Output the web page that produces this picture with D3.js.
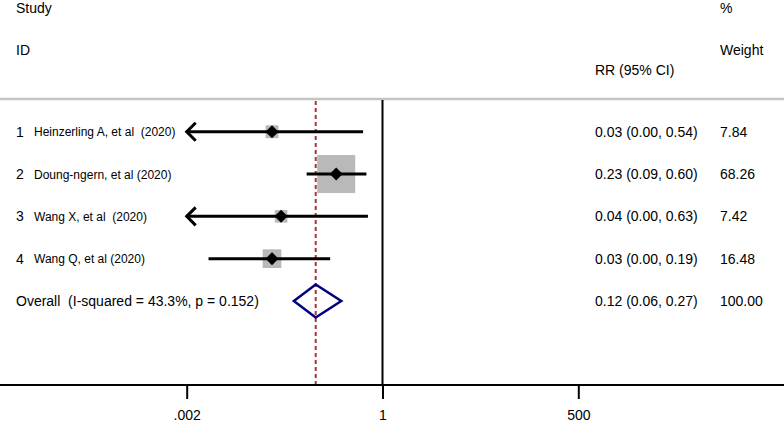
<!DOCTYPE html>
<html><head><meta charset="utf-8">
<script src="https://cdn.jsdelivr.net/npm/d3@7"></script>
<style>body{margin:0;background:#fff}svg{display:block;font-family:"Liberation Sans",Arial,sans-serif}text{white-space:pre}</style>
</head><body><svg id="c" width="784" height="425"></svg>
<script>
const studies = ["Heinzerling A, et al  (2020)", "Doung-ngern, et al (2020)", "Wang X, et al  (2020)", "Wang Q, et al (2020)"];
const rr = [0.03, 0.23, 0.04, 0.03];
const lower = [0.001, 0.09, 0.001, 0.004];
const upper = [0.54, 0.60, 0.63, 0.19];
const ciText = ["0.03 (0.00, 0.54)", "0.23 (0.09, 0.60)", "0.04 (0.00, 0.63)", "0.03 (0.00, 0.19)"];
const weights = [7.84, 68.26, 7.42, 16.48];
const overall = {label: "Overall  (I-squared = 43.3%, p = 0.152)", rr: 0.12, lower: 0.06, upper: 0.27, text: "0.12 (0.06, 0.27)", weight: "100.00"};
const tickValues = [0.002, 1, 500];
const tickLabels = [".002", "1", "500"];

const svg = d3.select("#c");
const x = d3.scaleLog().domain([0.002, 500]).range([186.7, 578.3]);
const y = d3.scaleLinear().domain([0, 4]).range([131.7, 301]);
const size = d3.scaleSqrt().domain([0, 100]).range([0, 46]);
const topY = 99, axisY = 385;
const FS = 14;

// header separator
svg.append("line").attr("x1", 0).attr("x2", 784).attr("y1", topY).attr("y2", topY)
  .attr("stroke", "#c4c4c4").attr("stroke-width", 2.5);

// header text
const hdr = svg.append("g").attr("font-size", FS).attr("fill", "#000");
hdr.append("text").attr("x", 16).attr("y", 13).text("Study");
hdr.append("text").attr("x", 16).attr("y", 55).text("ID");
hdr.append("text").attr("x", 595).attr("y", 75).text("RR (95% CI)");
hdr.append("text").attr("x", 720).attr("y", 13).text("%");
hdr.append("text").attr("x", 720).attr("y", 55).text("Weight");

// null line
svg.append("line").attr("x1", x(1)).attr("x2", x(1)).attr("y1", topY + 1).attr("y2", axisY)
  .attr("stroke", "#000").attr("stroke-width", 2);
// overall dashed line
svg.append("line").attr("x1", x(overall.rr)).attr("x2", x(overall.rr)).attr("y1", topY + 2).attr("y2", axisY)
  .attr("stroke", "#aa3340").attr("stroke-width", 2).attr("stroke-dasharray", "4,3");

// axis
const axis = d3.axisBottom(x).tickValues(tickValues).tickFormat((d, i) => tickLabels[i]).tickSize(14).tickPadding(9);
const ag = svg.append("g").attr("transform", `translate(0,${axisY})`).call(axis);
ag.select(".domain").remove();
ag.selectAll(".tick line").attr("stroke", "#000").attr("stroke-width", 2);
ag.selectAll(".tick text").attr("font-size", FS).attr("font-family", '"Liberation Sans",Arial,sans-serif')
  .attr("fill", "#000").attr("dy", null).attr("y", 35);
svg.append("line").attr("x1", 0).attr("x2", 784).attr("y1", axisY).attr("y2", axisY).attr("stroke", "#000").attr("stroke-width", 2);

// studies
studies.forEach((s, i) => {
  const cy = y(i);
  svg.append("text").attr("x", 16).attr("y", cy + 5).attr("font-size", FS).text(i + 1);
  svg.append("text").attr("x", 34).attr("y", cy + 4.5).attr("font-size", 12).text(s);
  const sz = size(weights[i]);
  svg.append("rect").attr("x", x(rr[i]) - sz / 2).attr("y", cy - sz / 2).attr("width", sz).attr("height", sz)
    .attr("fill", "#b9b9b9");
  const lo = Math.max(lower[i], x.domain()[0]);
  svg.append("line").attr("x1", x(lo)).attr("x2", x(upper[i])).attr("y1", cy).attr("y2", cy)
    .attr("stroke", "#000").attr("stroke-width", 3);
  if (lower[i] < x.domain()[0]) {
    const ax = x(x.domain()[0]);
    svg.append("path").attr("d", `M${ax + 9},${cy - 9} L${ax},${cy} L${ax + 9},${cy + 9}`)
      .attr("fill", "none").attr("stroke", "#000").attr("stroke-width", 3);
  }
  const px = x(rr[i]);
  svg.append("path").attr("d", `M${px},${cy - 6.5} L${px + 6.5},${cy} L${px},${cy + 6.5} L${px - 6.5},${cy} Z`).attr("fill", "#000");
  svg.append("text").attr("x", 595).attr("y", cy + 5).attr("font-size", FS).text(ciText[i]);
  svg.append("text").attr("x", 720).attr("y", cy + 5).attr("font-size", FS).text(weights[i].toFixed(2));
});

// overall
const oy = y(4);
svg.append("text").attr("x", 16).attr("y", oy + 5).attr("font-size", FS).text(overall.label);
svg.append("path").attr("d", `M${x(overall.lower)},${oy} L${x(overall.rr)},${oy - 16.5} L${x(overall.upper)},${oy} L${x(overall.rr)},${oy + 16.5} Z`)
  .attr("fill", "none").attr("stroke", "#000080").attr("stroke-width", 2.5);
svg.append("text").attr("x", 595).attr("y", oy + 5).attr("font-size", FS).text(overall.text);
svg.append("text").attr("x", 720).attr("y", oy + 5).attr("font-size", FS).text(overall.weight);
</script></body></html>
